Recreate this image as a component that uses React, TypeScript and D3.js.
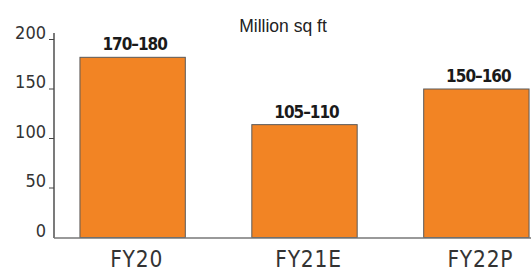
import React from "react";
import * as d3 from "d3";

const categories = ["FY20", "FY21E", "FY22P"];
const values = [182, 114, 150];
const rangeLabels = ["170–180", "105–110", "150–160"];
const yTicks = [0, 50, 100, 150, 200];
const unitLabel = "Million sq ft";

const W = 531;
const H = 276;

export default function App() {
  const x = d3
    .scaleBand<string>()
    .domain(categories)
    .range([54, 555])
    .paddingInner(0.387)
    .paddingOuter(0.151);
  const y = d3.scaleLinear().domain([0, 200]).range([237.5, 39.5]);
  const narrow = "'Liberation Sans Narrow', 'DejaVu Sans Condensed', sans-serif";

  return (
    <svg
      width={W}
      height={H}
      style={{ position: "absolute", left: 0, top: 0, background: "#fff" }}
    >
      <text
        x={283}
        y={32}
        textAnchor="middle"
        fontFamily="'Liberation Sans', Arial, sans-serif"
        fontSize={17.5}
        fill="#222"
      >
        {unitLabel}
      </text>

      {categories.map((c, i) => (
        <g key={c}>
          <rect
            x={x(c)}
            y={y(values[i])}
            width={x.bandwidth()}
            height={y(0) - y(values[i])}
            fill="#F28424"
            stroke="#5a5a5a"
            strokeWidth={1}
          />
          <text
            x={(x(c) as number) + x.bandwidth() / 2 + 2}
            y={y(values[i]) - 7}
            textAnchor="middle"
            fontFamily="'DejaVu Sans Condensed', 'DejaVu Sans', sans-serif"
            fontStretch="condensed"
            fontWeight="bold"
            fontSize={17}
            letterSpacing={-1}
            fill="#1a1a1a"
          >
            {rangeLabels[i]}
          </text>
          <text
            x={(x(c) as number) + x.bandwidth() / 2 + 4}
            y={267}
            textAnchor="middle"
            fontFamily={narrow}
            fontSize={22.5}
            letterSpacing={0.8}
            fill="#333"
          >
            {c}
          </text>
        </g>
      ))}

      {/* axes */}
      <line x1={54} x2={54} y1={33} y2={238} stroke="#222" strokeWidth={1.2} />
      <line x1={54} x2={531} y1={238} y2={238} stroke="#777" strokeWidth={1.5} />
      {yTicks.map((t) => (
        <g key={t}>
          {t > 0 && (
            <line x1={49} x2={54} y1={y(t)} y2={y(t)} stroke="#444" strokeWidth={1} />
          )}
          <text
            x={46}
            y={y(t) - 1}
            textAnchor="end"
            fontFamily={narrow}
            fontSize={18}
            fill="#333"
          >
            {t}
          </text>
        </g>
      ))}
    </svg>
  );
}
